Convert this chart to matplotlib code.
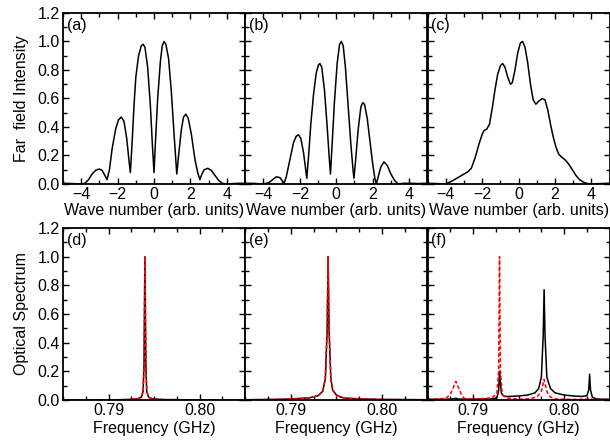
import matplotlib
matplotlib.use("Agg")
import matplotlib.pyplot as plt
from matplotlib.ticker import MultipleLocator

plt.rcParams["font.family"] = ["Liberation Sans", "DejaVu Sans"]
plt.rcParams["font.size"] = 11.5

# far field intensity, panels (a)-(c)
k_a = [-5.0, -4.5, -4.0, -3.8, -3.6, -3.4, -3.2, -3.0, -2.85, -2.7, -2.58, -2.45, -2.3, -2.1,
       -1.95, -1.8, -1.65, -1.5, -1.38, -1.3, -1.2, -1.1, -1.0, -0.85, -0.7, -0.6, -0.5, -0.35,
       -0.2, -0.08, 0.0, 0.08, 0.2, 0.35, 0.45, 0.55, 0.65, 0.8, 0.95, 1.1, 1.25, 1.35, 1.5,
       1.62, 1.75, 1.88, 2.05, 2.25, 2.4, 2.52, 2.6, 2.75, 2.95, 3.15, 3.35, 3.55, 3.75, 4.0,
       4.5, 5.0]
ff_a = [0.005, 0.003, 0.0, 0.005, 0.03, 0.07, 0.097, 0.105, 0.095, 0.06, 0.03, 0.1, 0.25, 0.39,
        0.45, 0.47, 0.44, 0.32, 0.17, 0.08, 0.3, 0.55, 0.75, 0.9, 0.97, 0.98, 0.96, 0.82,
        0.55, 0.25, 0.08, 0.3, 0.6, 0.86, 0.97, 1.0, 0.98, 0.88, 0.65, 0.35, 0.07, 0.2, 0.38,
        0.47, 0.49, 0.46, 0.35, 0.17, 0.08, 0.03, 0.06, 0.1, 0.11, 0.095, 0.06, 0.025, 0.005, 0.0,
        0.004, 0.005]

k_b = [-5.0, -4.5, -4.0, -3.7, -3.5, -3.3, -3.1, -2.95, -2.88, -2.75, -2.55, -2.35, -2.2, -2.08,
       -1.95, -1.8, -1.68, -1.62, -1.52, -1.4, -1.25, -1.1, -0.98, -0.9, -0.8, -0.65, -0.5,
       -0.38, -0.32, -0.22, -0.1, 0.05, 0.18, 0.28, 0.38, 0.5, 0.65, 0.8, 0.92, 0.97, 1.05,
       1.2, 1.35, 1.45, 1.55, 1.7, 1.85, 2.0, 2.12, 2.2, 2.3, 2.45, 2.62, 2.8, 3.0, 3.2, 3.4,
       3.7, 4.0, 4.5, 5.0]
ff_b = [0.005, 0.004, 0.0, 0.01, 0.03, 0.05, 0.045, 0.02, 0.0, 0.05, 0.17, 0.29, 0.335, 0.345,
        0.32, 0.22, 0.1, 0.04, 0.2, 0.42, 0.63, 0.78, 0.835, 0.845, 0.82, 0.66, 0.4,
        0.17, 0.07, 0.3, 0.58, 0.85, 0.98, 1.0, 0.97, 0.82, 0.55, 0.28, 0.1, 0.04, 0.15,
        0.38, 0.54, 0.57, 0.56, 0.46, 0.3, 0.14, 0.04, 0.0, 0.05, 0.12, 0.155, 0.13, 0.07, 0.025, 0.0,
        0.005, 0.005, 0.003, 0.005]

k_c = [-5.0, -4.5, -4.0, -3.6, -3.2, -2.8, -2.6, -2.4, -2.2, -2.0, -1.9, -1.75, -1.6, -1.45,
       -1.3, -1.15, -1.0, -0.88, -0.75, -0.6, -0.45, -0.35, -0.2, -0.05, 0.1, 0.22, 0.35, 0.5,
       0.65, 0.8, 0.95, 1.1, 1.3, 1.45, 1.6, 1.75, 1.9, 2.05, 2.2, 2.35, 2.55, 2.75, 2.95,
       3.15, 3.35, 3.6, 3.9, 4.5, 5.0]
ff_c = [0.005, 0.003, 0.0, 0.025, 0.055, 0.085, 0.11, 0.18, 0.27, 0.35, 0.375, 0.385, 0.42, 0.53,
        0.66, 0.77, 0.83, 0.845, 0.82, 0.75, 0.7, 0.71, 0.8, 0.92, 0.99, 1.0, 0.96, 0.85,
        0.7, 0.59, 0.56, 0.58, 0.6, 0.59, 0.52, 0.42, 0.33, 0.26, 0.21, 0.19, 0.17, 0.14, 0.1,
        0.06, 0.03, 0.01, 0.0, 0.003, 0.005]

# optical spectra, panels (d)-(f): black solid and red dashed
f_d = [0.785, 0.790, 0.792, 0.7932, 0.7936, 0.7938, 0.7939, 0.7940, 0.7941, 0.7942, 0.7944,
       0.7948, 0.796, 0.800, 0.805]
s_d = [0.0, 0.001, 0.003, 0.008, 0.02, 0.06, 0.25, 1.0, 0.25, 0.06, 0.02, 0.008, 0.003, 0.001, 0.0]

f_e = [0.785, 0.788, 0.790, 0.792, 0.793, 0.7935, 0.7938, 0.7940, 0.7941, 0.7942, 0.7944,
       0.7946, 0.7950, 0.7955, 0.796, 0.798, 0.800, 0.805]
s_e = [0.002, 0.004, 0.007, 0.015, 0.03, 0.06, 0.15, 0.5, 1.0, 0.5, 0.15, 0.07, 0.035, 0.02,
       0.013, 0.007, 0.004, 0.002]

f_f_black = [0.785, 0.787, 0.7878, 0.7881, 0.7884, 0.790, 0.792, 0.7926, 0.7928, 0.7929, 0.7930,
             0.7931, 0.7933, 0.7936, 0.794, 0.795, 0.796, 0.7968, 0.7972, 0.7975, 0.7977, 0.7978,
             0.7979, 0.7981, 0.7985, 0.799, 0.800, 0.801, 0.802, 0.8025, 0.8027, 0.8028, 0.8029,
             0.8031, 0.8035, 0.804, 0.805]
s_f_black = [0.005, 0.005, 0.008, 0.012, 0.007, 0.006, 0.008, 0.015, 0.06, 0.20, 0.12,
             0.05, 0.03, 0.025, 0.025, 0.028, 0.035, 0.05, 0.08, 0.16, 0.45, 0.77,
             0.45, 0.16, 0.08, 0.05, 0.035, 0.028, 0.025, 0.03, 0.07, 0.18, 0.07,
             0.02, 0.008, 0.006, 0.005]

f_f_red = [0.785, 0.786, 0.787, 0.7875, 0.7879, 0.7881, 0.7883, 0.7887, 0.789, 0.790, 0.791,
           0.792, 0.7926, 0.7928, 0.7929, 0.7930, 0.7932, 0.7936, 0.795, 0.796, 0.797, 0.7975,
           0.7978, 0.7981, 0.7985, 0.799, 0.801, 0.8025, 0.8028, 0.8031, 0.805]
s_f_red = [0.005, 0.008, 0.012, 0.04, 0.1, 0.13, 0.1, 0.04, 0.012, 0.006, 0.01,
           0.015, 0.04, 0.2, 1.0, 0.2, 0.04, 0.015, 0.005, 0.008, 0.02, 0.06,
           0.145, 0.06, 0.02, 0.008, 0.004, 0.006, 0.01, 0.005, 0.003]

top_data = [(k_a, ff_a, "(a)"), (k_b, ff_b, "(b)"), (k_c, ff_c, "(c)")]
bottom_data = [
    (f_d, s_d, f_d, s_d, "(d)"),
    (f_e, s_e, f_e, s_e, "(e)"),
    (f_f_black, s_f_black, f_f_red, s_f_red, "(f)"),
]


def style_axis(ax):
    for sp in ax.spines.values():
        sp.set_linewidth(1.3)
    ax.tick_params(which="both", direction="in", top=True, right=True, width=1.0, pad=2.5)
    ax.tick_params(which="major", length=4)
    ax.tick_params(which="minor", length=3)
    ax.set_ylim(0, 1.2)
    ax.yaxis.set_major_locator(MultipleLocator(0.2))
    ax.yaxis.set_minor_locator(MultipleLocator(0.1))


fig = plt.figure(figsize=(6.1, 4.47), dpi=100)
lefts = [0.1033, 0.4021, 0.7010]
width = 0.2984

for i, (x, y, tag) in enumerate(top_data):
    ax = fig.add_axes([lefts[i], 0.5884, width, 0.3826])
    style_axis(ax)
    ax.plot(x, y, color="black", lw=1.1)
    ax.set_xlim(-5, 5)
    ax.xaxis.set_minor_locator(MultipleLocator(1))
    ax.set_xticks([-4, -2, 0, 2, 4])
    ax.set_xlabel("Wave number (arb. units)", labelpad=0.5)
    ax.text(0.02, 0.97, tag, transform=ax.transAxes, ha="left", va="top")
    if i == 0:
        ax.set_ylabel("Far  field Intensity", labelpad=6)
        ax.set_yticklabels([f"{v:.1f}" for v in ax.get_yticks()])
    else:
        ax.tick_params(labelleft=False)

for i, (xk, yk, xr, yr, tag) in enumerate(bottom_data):
    ax = fig.add_axes([lefts[i], 0.1051, width, 0.3848])
    style_axis(ax)
    ax.plot(xk, yk, color="black", lw=1.1)
    ax.plot(xr, yr, color="red", lw=1.1, ls=(0, (2.5, 1.5)))
    ax.set_xlim(0.785, 0.805)
    ax.xaxis.set_minor_locator(MultipleLocator(0.0025))
    ax.set_xticks([0.79, 0.80])
    ax.set_xticklabels(["0.79", "0.80"])
    ax.set_xlabel("Frequency (GHz)", labelpad=2)
    ax.text(0.02, 0.97, tag, transform=ax.transAxes, ha="left", va="top")
    if i == 0:
        ax.set_ylabel("Optical Spectrum", labelpad=6)
        ax.set_yticklabels([f"{v:.1f}" for v in ax.get_yticks()])
    else:
        ax.tick_params(labelleft=False)

fig.savefig("out.png", dpi=100)
